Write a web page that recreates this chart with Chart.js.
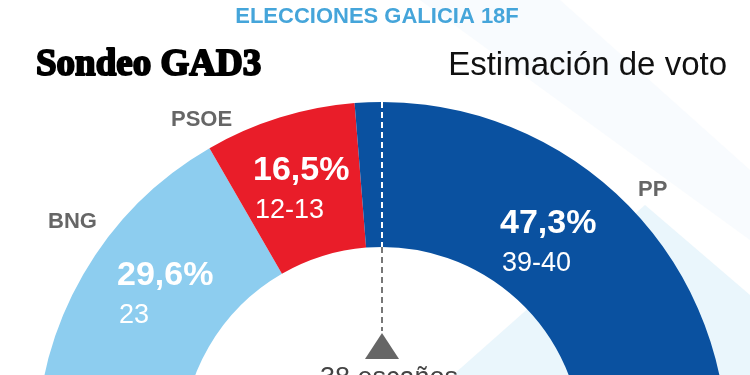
<!DOCTYPE html>
<html>
<head>
<meta charset="utf-8">
<script src="https://cdn.jsdelivr.net/npm/chart.js"></script>
<style>
  html, body { margin: 0; padding: 0; background: #fff; overflow: hidden; }
  .marco { width: 750px; height: 375px; overflow: hidden; }
</style>
</head>
<body>
<div class="marco">
  <canvas id="votoChart" width="750" height="450"></canvas>
</div>
<script>
// datos
const partidos = ['BNG', 'PSOE', 'PP'];
const arco = [25, 10.6, 39.4];            // tamaño dibujado de cada tramo (escaños sobre 75)
const porcentajes = ['29,6%', '16,5%', '47,3%'];
const escanos = ['23', '12-13', '39-40'];
const colores = ['#8dcdef', '#e91d29', '#0a51a0'];
const mayoria = '38 escaños';

const sans = '"Liberation Sans", Arial, sans-serif';

// posiciones de los textos respecto al centro del arco
const posPct = [[-265, -162], [-129, -267], [118, -214]];
const posNombre = [[-334, -219], [-211, -321], [256, -251]];

const ctx = document.getElementById('votoChart').getContext('2d');

new Chart(ctx, {
  type: 'doughnut',
  data: {
    labels: partidos,
    datasets: [{
      data: arco,
      backgroundColor: colores,
      borderWidth: 0,
      hoverOffset: 0
    }]
  },
  options: {
    responsive: false,
    animation: false,
    rotation: -90,
    circumference: 180,
    cutout: '58%',
    layout: {
      padding: { left: 37, right: 23, top: 102, bottom: 3 }
    },
    plugins: {
      legend: { display: false },
      tooltip: { enabled: false }
    }
  },
  plugins: [{
    id: 'fondo',
    beforeDraw: function (chart) {
      const c = chart.ctx;
      c.save();
      c.fillStyle = '#ffffff';
      c.fillRect(0, 0, chart.width, chart.height);
      // bandas diagonales suaves del fondo
      c.fillStyle = '#f8fbfe';
      c.beginPath();
      c.moveTo(420, 0);
      c.lineTo(560, 0);
      c.lineTo(750, 170);
      c.lineTo(750, 240);
      c.closePath();
      c.fill();
      c.fillStyle = '#eaf6fc';
      c.beginPath();
      c.moveTo(453, 375);
      c.lineTo(645, 205);
      c.lineTo(750, 295);
      c.lineTo(750, 450);
      c.lineTo(420, 450);
      c.closePath();
      c.fill();
      c.restore();
    },
    afterDatasetsDraw: function (chart) {
      const c = chart.ctx;
      const arcs = chart.getDatasetMeta(0).data;
      const { x, y, outerRadius, innerRadius } = arcs[0];
      c.save();

      // linea de mayoria
      c.lineWidth = 2;
      c.setLineDash([6, 4]);
      c.strokeStyle = '#ffffff';
      c.beginPath();
      c.moveTo(x, y - outerRadius);
      c.lineTo(x, y - innerRadius);
      c.stroke();
      c.strokeStyle = '#777777';
      c.beginPath();
      c.moveTo(x, y - innerRadius);
      c.lineTo(x, y - 116);
      c.stroke();
      c.setLineDash([]);

      c.fillStyle = '#666666';
      c.beginPath();
      c.moveTo(x, y - 114);
      c.lineTo(x + 17, y - 88);
      c.lineTo(x - 17, y - 88);
      c.closePath();
      c.fill();

      c.font = '27px ' + sans;
      c.fillStyle = '#444444';
      c.textAlign = 'left';
      c.textBaseline = 'alphabetic';
      c.fillText(mayoria, x - 62, y - 61);

      // etiquetas de cada partido
      partidos.forEach(function (p, i) {
        c.fillStyle = '#ffffff';
        c.font = 'bold 34px ' + sans;
        c.fillText(porcentajes[i], x + posPct[i][0], y + posPct[i][1]);
        c.font = '27px ' + sans;
        c.fillText(escanos[i], x + posPct[i][0] + 2, y + posPct[i][1] + 38);

        c.fillStyle = '#666666';
        c.font = 'bold 22px ' + sans;
        c.fillText(p, x + posNombre[i][0], y + posNombre[i][1]);
      });
      c.restore();
    },
    afterDraw: function (chart) {
      const c = chart.ctx;
      c.save();
      c.textBaseline = 'alphabetic';

      c.textAlign = 'center';
      c.fillStyle = '#45a5da';
      c.font = 'bold 22px ' + sans;
      c.fillText('ELECCIONES GALICIA 18F', 377, 23);

      c.textAlign = 'left';
      c.fillStyle = '#000000';
      c.strokeStyle = '#000000';
      c.lineWidth = 2;
      c.lineJoin = 'round';
      c.font = 'bold 37px "Liberation Serif", "Times New Roman", serif';
      c.fillText('Sondeo GAD3', 36, 75, 229);
      c.strokeText('Sondeo GAD3', 36, 75, 229);

      c.textAlign = 'right';
      c.fillStyle = '#111111';
      c.font = '33px ' + sans;
      c.fillText('Estimación de voto', 727, 75);
      c.restore();
    }
  }]
});
</script>
</body>
</html>
